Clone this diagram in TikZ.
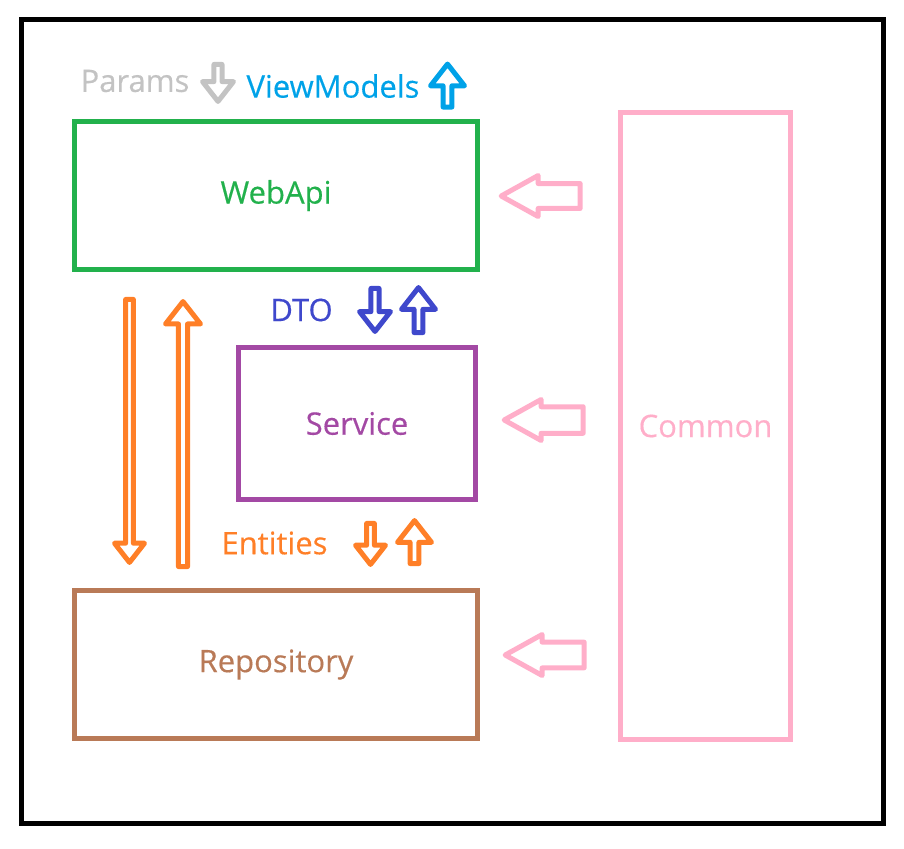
\documentclass[tikz,border=0pt]{standalone}
\usepackage{fontspec}
\setmainfont{Open Sans}[UprightFeatures={FakeBold=0.4}]
\usepackage{tikz}
\usetikzlibrary{shapes.arrows, positioning}
\usepackage{color}

\definecolor{webgreen}{HTML}{22B14C}
\definecolor{svcpurple}{HTML}{A349A4}
\definecolor{repobrown}{HTML}{B97A57}
\definecolor{commonpink}{HTML}{FFAEC9}
\definecolor{paramgray}{HTML}{C3C3C3}
\definecolor{vmblue}{HTML}{00A2E8}
\definecolor{dtoblue}{HTML}{3F48CC}
\definecolor{entorange}{HTML}{FF7F27}

\begin{document}
\begin{tikzpicture}[x=1pt,y=-1pt,line width=5pt,
 every node/.style={font=\fontsize{31}{36}\selectfont}]
 \tikzstyle{layer}=[draw,rectangle,inner sep=0pt]
 \tikzstyle{hollow}=[single arrow,draw,inner xsep=0pt,line join=round,
   single arrow tip angle=76,anchor=tip]
 \tikzstyle{down}=[hollow,shape border rotate=270]
 \tikzstyle{up}=[hollow,shape border rotate=90]
 \tikzstyle{inbound}=[hollow,shape border rotate=180,draw=commonpink,
   single arrow tip angle=58,minimum height=79pt,minimum width=41pt]
 \tikzstyle{tag}=[inner sep=0pt]

 \useasboundingbox (0,0) rectangle (904,848);
 \draw (21.5,19.5) rectangle (883.5,823.5);

 % layers
 \node[layer,draw=webgreen,text=webgreen,minimum width=403pt,minimum height=148pt]
   (webapi) at (276,195.5) {WebApi};
 \node[layer,draw=svcpurple,text=svcpurple,minimum width=237pt,minimum height=152pt]
   (service) at (357,423.5) {Service};
 \node[layer,draw=repobrown,text=repobrown,minimum width=403pt,minimum height=148pt]
   (repository) at (276,664.5) {Repository};
 \node[layer,draw=commonpink,text=commonpink,minimum width=170pt,minimum height=627pt]
   (common) at (705.5,426) {Common};

 % in and out of the api
 \node[down,draw=paramgray,minimum height=37pt,minimum width=31pt,inner ysep=6.5pt]
   (parin) at (218,105.5) {};
 \node[up,draw=vmblue,minimum height=43pt,minimum width=34pt,inner ysep=6pt]
   (vmout) at (447.5,60) {};
 \node[tag,text=paramgray] (params) at (135,81) {Params};
 \node[tag,text=vmblue] (viewmodels) at (333,86) {ViewModels};

 % api <-> service
 \node[down,draw=dtoblue,minimum height=43pt,minimum width=31pt,inner ysep=8.5pt]
   (dtoin) at (375,335.5) {};
 \node[up,draw=dtoblue,minimum height=45pt,minimum width=34pt,inner ysep=9pt]
   (dtoout) at (418.5,283.5) {};
 \node[tag,text=dtoblue] (dto) at (301.5,310) {DTO};

 % service <-> repository
 \node[down,draw=entorange,minimum height=41pt,minimum width=30pt,inner ysep=8pt]
   (entin) at (370.5,568.5) {};
 \node[up,draw=entorange,minimum height=43pt,minimum width=34pt,inner ysep=7.5pt]
   (entout) at (414.5,516.5) {};
 \node[tag,text=entorange] (entities) at (274.5,543) {Entities};

 % api <-> repository
 \node[down,draw=entorange,minimum height=263pt,minimum width=30pt,inner ysep=6pt]
   (repoin) at (129.5,566.5) {};
 \node[up,draw=entorange,minimum height=265pt,minimum width=35pt,inner ysep=7.5pt]
   (repoout) at (183,297.5) {};

 % common is used by all
 \node[inbound,inner ysep=8.5pt] (cweb) at (496,196) {};
 \node[inbound,inner ysep=10.5pt] (csvc) at (499,420) {};
 \node[inbound,inner ysep=9.5pt] (crepo) at (500,655) {};
\end{tikzpicture}
\end{document}
